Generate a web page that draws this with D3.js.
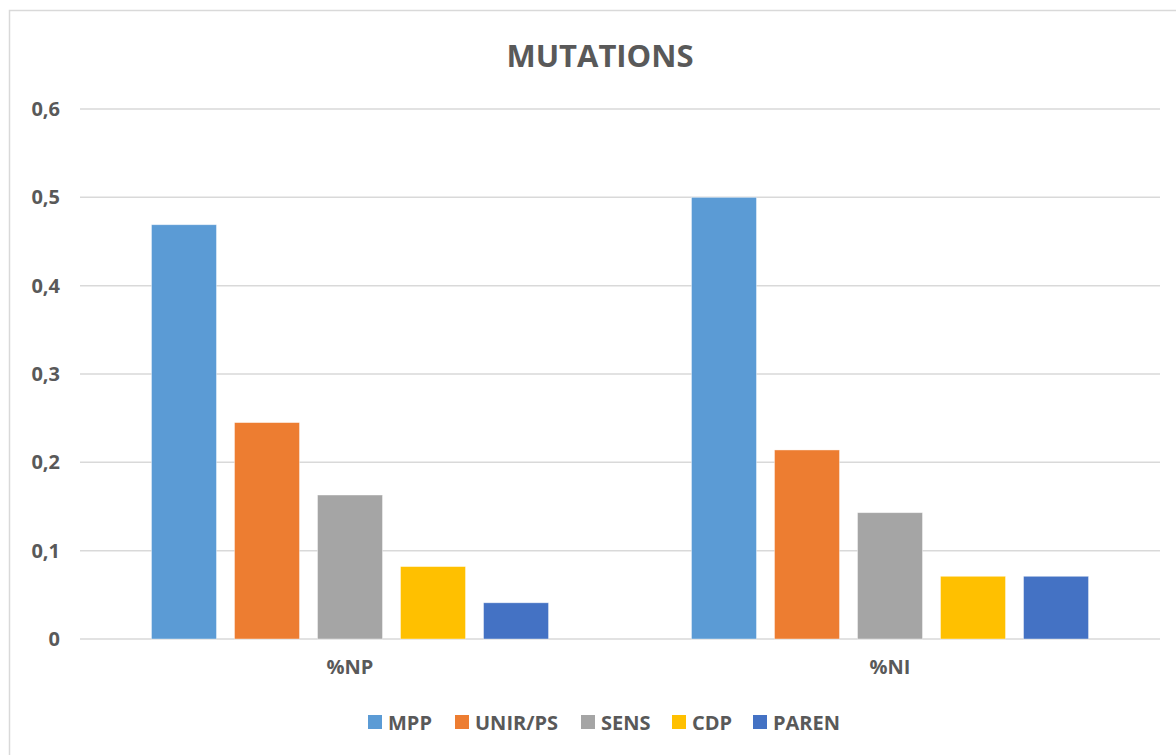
<!DOCTYPE html>
<html>
<head>
<meta charset="utf-8">
<script src="https://cdn.jsdelivr.net/npm/d3@7"></script>
<style>
  html, body { margin: 0; padding: 0; background: #fff; }
  svg { display: block; }
  text { font-family: "Open Sans", "Noto Sans", sans-serif; font-weight: 700; fill: #595959; }
</style>
</head>
<body>
<svg id="chart" width="1176" height="755"></svg>
<script>
const title = "MUTATIONS";
const categories = ["%NP", "%NI"];
const seriesNames = ["MPP", "UNIR/PS", "SENS", "CDP", "PAREN"];
const seriesColors = ["#5B9BD5", "#ED7D31", "#A5A5A5", "#FFC000", "#4472C4"];
const valuesMPP   = [0.469, 0.5];
const valuesUNIR  = [0.245, 0.214];
const valuesSENS  = [0.163, 0.143];
const valuesCDP   = [0.082, 0.071];
const valuesPAREN = [0.041, 0.071];
const yTicks = [0, 0.1, 0.2, 0.3, 0.4, 0.5, 0.6];

const seriesValues = [valuesMPP, valuesUNIR, valuesSENS, valuesCDP, valuesPAREN];

const svg = d3.select("#chart");

// chart frame
svg.append("rect")
  .attr("x", 9.5).attr("y", 10.5)
  .attr("width", 1200).attr("height", 800)
  .attr("fill", "#fff").attr("stroke", "#D9D9D9").attr("stroke-width", 1.5);

const plot = { left: 80, right: 1160, top: 109, bottom: 639 };

const x0 = d3.scaleBand().domain(categories).range([plot.left, plot.right]).paddingInner(0).paddingOuter(0);
const x1 = d3.scaleBand().domain(seriesNames).range([0, x0.bandwidth()])
  .paddingInner(0.217).paddingOuter(0.861);
const y = d3.scaleLinear().domain([0, 0.6]).range([plot.bottom, plot.top]);

const fmt = v => v === 0 ? "0" : d3.format(".1f")(v).replace(".", ",");

// gridlines
svg.append("g")
  .selectAll("line").data(yTicks).join("line")
  .attr("x1", plot.left).attr("x2", plot.right)
  .attr("y1", d => y(d)).attr("y2", d => y(d))
  .attr("stroke", "#D9D9D9").attr("stroke-width", 1.5);

// y axis labels via d3 axis
const yAxis = d3.axisLeft(y).tickValues(yTicks).tickFormat(fmt).tickSize(0).tickPadding(20);
const yg = svg.append("g").attr("transform", `translate(${plot.left},0)`).call(yAxis);
yg.select(".domain").remove();
yg.selectAll("text").attr("font-size", 20).attr("fill", "#595959")
  .style("font-family", '"Open Sans", sans-serif').style("font-weight", 700);

// bars
const groups = svg.append("g").selectAll("g").data(categories).join("g")
  .attr("transform", d => `translate(${x0(d)},0)`);
groups.selectAll("rect")
  .data((c, ci) => seriesNames.map((s, si) => ({ s, si, v: seriesValues[si][ci] })))
  .join("rect")
  .attr("x", d => x1(d.s))
  .attr("width", x1.bandwidth())
  .attr("y", d => y(d.v))
  .attr("height", d => y(0) - y(d.v))
  .attr("fill", d => seriesColors[d.si])
  .attr("stroke", "#fff").attr("stroke-opacity", 0.5).attr("stroke-width", 0.8);

// x axis labels
const xAxis = d3.axisBottom(x0).tickSize(0).tickPadding(21);
const xg = svg.append("g").attr("transform", `translate(0,${plot.bottom})`).call(xAxis);
xg.select(".domain").remove();
xg.selectAll("text").attr("font-size", 20).attr("fill", "#595959")
  .style("font-family", '"Open Sans", sans-serif').style("font-weight", 700);

// title
svg.append("text")
  .attr("x", 600).attr("y", 55)
  .attr("text-anchor", "middle").attr("dominant-baseline", "central")
  .attr("font-size", 31)
  .text(title);

// legend
const legend = svg.append("g").attr("transform", "translate(0,722)");
const legendX = [368, 455, 581, 672, 753];
const li = legend.selectAll("g").data(seriesNames).join("g")
  .attr("transform", (d, i) => `translate(${legendX[i]},0)`);
li.append("rect").attr("x", 0).attr("y", -7).attr("width", 14).attr("height", 14)
  .attr("fill", (d, i) => seriesColors[i]);
li.append("text").attr("x", 20).attr("y", 0).attr("dominant-baseline", "central")
  .attr("font-size", 20).text(d => d);
</script>
</body>
</html>
